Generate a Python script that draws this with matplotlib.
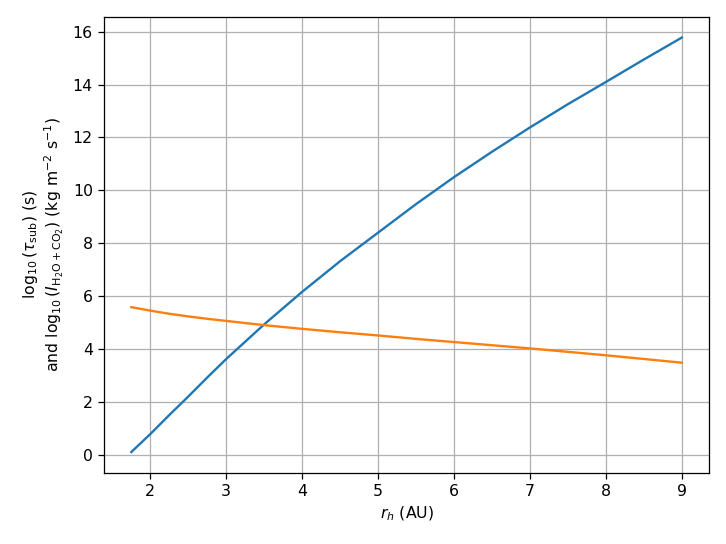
import matplotlib
matplotlib.use('Agg')
import matplotlib.pyplot as plt

# Distancia heliocentrica (AU) y valores
r_h = [1.75, 2.0, 2.25, 2.5, 2.75, 3.0, 3.5, 4.0, 4.5, 5.0, 5.5, 6.0, 6.5, 7.0, 7.5, 8.0, 8.5, 9.0]
log_tau = [0.1, 0.78, 1.5, 2.2, 2.92, 3.62, 4.93, 6.16, 7.32, 8.4, 9.48, 10.5, 11.46, 12.38, 13.26, 14.1, 14.95, 15.78]
log_I = [5.58, 5.45, 5.33, 5.23, 5.14, 5.06, 4.9, 4.76, 4.63, 4.51, 4.38, 4.26, 4.14, 4.02, 3.89, 3.76, 3.62, 3.48]

dpi = 726 / 6.4
fig, ax = plt.subplots(figsize=(6.4, 544 / dpi), dpi=dpi)
fig.subplots_adjust(left=0.143, right=0.977, top=0.969, bottom=0.131)

ax.plot(r_h, log_tau)
ax.plot(r_h, log_I)

ax.set_xlabel(r'$r_h$ (AU)')
ax.set_ylabel(r'$\log_{10}(\tau_{\rm sub})$ (s)' + '\n'
              + r'and $\log_{10}(I_{\rm H_2O+CO_2})$ (kg m$^{-2}$ s$^{-1}$)')
ax.grid(True)

fig.savefig('out.png', dpi=dpi)
